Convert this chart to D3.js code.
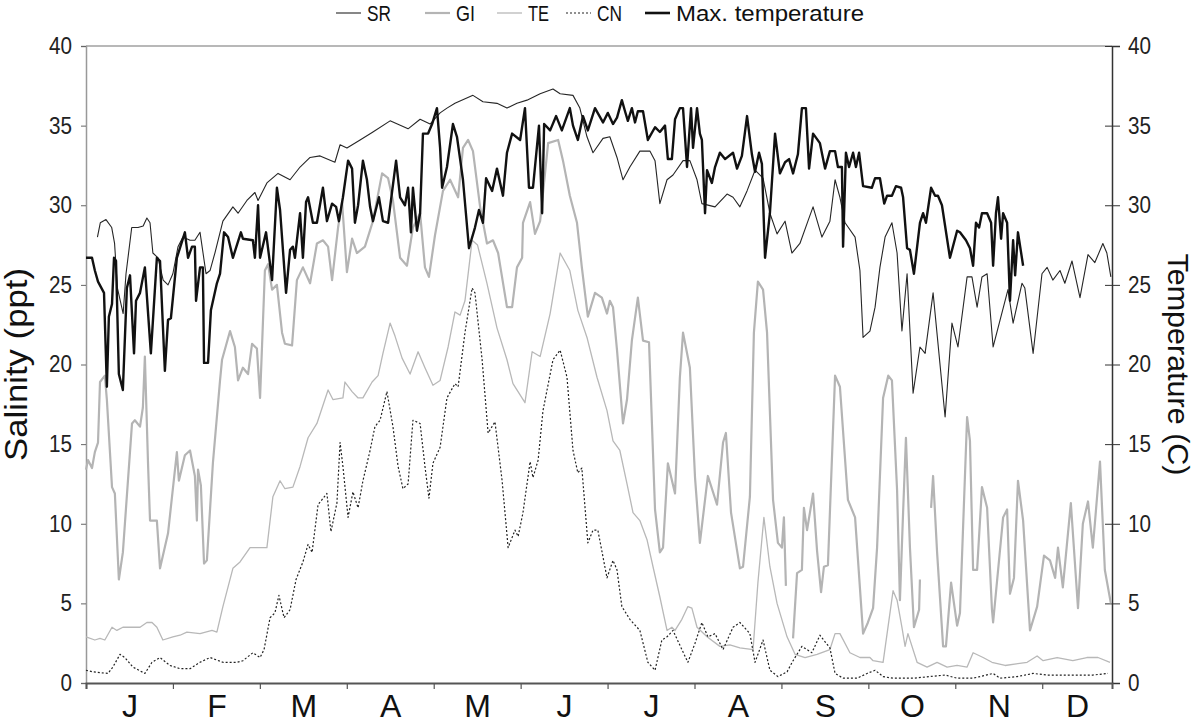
<!DOCTYPE html>
<html><head><meta charset="utf-8">
<script src="https://cdn.jsdelivr.net/npm/d3@7"></script>
<style>
html,body{margin:0;padding:0;background:#fff;}
text{font-family:"Liberation Sans",Arial,sans-serif;}
</style></head>
<body><svg id="c" width="1200" height="726"></svg>
<script>
const months = ["J","F","M","A","M","J","J","A","S","O","N","D"];
const yTicks = [0,5,10,15,20,25,30,35,40];
const legendNames = ["SR","GI","TE","CN","Max. temperature"];

// [day of year, salinity ppt]
const SR = [[4,28.0],[5,28.9],[7,29.1],[9,28.6],[10,27.6],[11,24.8],[13,23.2],[14,25.7],[16,28.6],[18.2,28.6],[20,28.7],[21.3,29.2],[22.4,28.9],[23.4,27.0],[25.2,26.7],[27,25.3],[28.7,25.0],[30.4,25.7],[32.2,27.4],[33.9,28.0],[36.4,27.8],[38.1,27.8],[39.9,28.3],[42,25.7],[43.4,25.9],[45.1,27.0],[47.9,29.0],[51.4,29.9],[53.2,29.5],[56.3,30.3],[59.1,30.8],[60.2,30.3],[63.3,31.4],[67.2,32.0],[71.4,31.6],[74.9,32.4],[78.4,33.0],[81.9,33.1],[87.1,32.7],[88.9,33.8],[91.3,33.6],[95.9,34.1],[100.4,34.6],[106.4,35.3],[112.7,34.8],[116.9,35.4],[120.4,35.1],[123.9,35.8],[126.3,36.1],[129.1,36.4],[135.4,36.9],[138.9,36.5],[143.8,36.4],[147.3,36.1],[150.8,36.4],[154.3,36.6],[158.9,37.0],[163.4,37.3],[165.9,37.0],[170.4,36.9],[172.8,36.1],[175.3,34.3],[177.4,33.3],[180.9,34.2],[183.3,34.3],[185.8,33.0],[187.9,31.6],[190.3,32.4],[193.8,33.4],[197.3,33.4],[199.1,32.8],[200.8,30.1],[203.3,31.6],[205.4,31.9],[208.9,32.8],[211.3,32.8],[213.8,31.6],[215.5,30.1],[220.1,29.9],[224.3,30.7],[226.4,30.5],[228.8,29.9],[231.3,30.9],[234.1,32.2],[236.9,31.7],[239.3,29.5],[241.8,28.2],[244.6,29.0],[247,27.0],[249.8,27.6],[252.6,29.0],[254.4,29.9],[257.5,28.0],[260.3,29.0],[262.1,31.6],[263.8,30.5],[265.6,28.9],[269.1,28.0],[270.8,25.9],[271.9,21.7],[274.3,22.1],[276.1,23.6],[277.8,26.1],[279.6,28.0],[282,28.9],[283.8,27.0],[285.5,22.1],[287.3,25.7],[289.4,18.2],[291.8,21.1],[293.6,20.7],[296.4,24.5],[300.6,16.7],[303,22.6],[305.1,21.1],[308.3,25.5],[310,25.5],[311.8,23.6],[313.5,25.5],[315.3,25.7],[317.4,21.1],[322.6,24.7],[324.4,22.6],[327.5,25.1],[328.5,24.8],[331.4,20.7],[334.5,25.7],[336.3,26.1],[338.3,25.3],[340.8,25.9],[342.5,25.1],[345,26.5],[347.8,24.2],[350.6,26.9],[353,26.4],[355.8,27.6],[357.2,27.0],[358.6,25.5]];

const GI = [[0,13.4],[0.7,14.0],[2.1,13.5],[3.1,14.5],[4.2,15.1],[4.9,18.9],[6.6,19.3],[7.3,17.8],[9.1,12.3],[10.1,11.9],[11.5,6.5],[12.9,8.2],[16.1,16.3],[17.1,16.5],[18.9,16.1],[19.9,17.3],[20.6,20.5],[21.7,13.8],[22.4,10.2],[24.8,10.2],[25.9,7.2],[28.7,9.4],[31.8,14.5],[32.5,12.7],[34.6,14.3],[36.4,14.6],[38.1,13.0],[38.8,10.2],[39.2,13.4],[40.2,12.4],[41.3,7.5],[42.3,7.7],[44.4,13.8],[46.9,19.0],[47.6,20.3],[50.4,22.1],[52.1,21.1],[53.2,19.0],[54.9,19.8],[56.7,19.4],[58.1,21.3],[59.8,21.0],[60.9,17.9],[62.6,25.9],[63.7,26.3],[65.1,24.7],[66.8,25.0],[68.6,22.0],[69.6,21.3],[72.1,21.2],[73.8,25.3],[75.9,26.1],[78.4,25.1],[80.8,27.6],[82.9,27.8],[84.7,27.4],[86.1,25.3],[88.2,28.6],[89.6,30.2],[91.3,25.8],[93.1,27.9],[94.8,27.0],[97.6,27.4],[100.4,29.0],[103.6,32.0],[105.7,31.7],[107.4,30.3],[109.9,26.7],[112.3,26.2],[114.4,28.6],[116.9,29.5],[118.6,26.1],[120,25.5],[122.1,28.1],[124.9,30.9],[127.4,31.6],[130.2,30.5],[131.9,33.6],[133.7,34.1],[135.4,33.4],[137.9,29.9],[140.3,27.6],[142.4,27.8],[144.2,27.0],[147.3,23.6],[149.1,23.6],[150.8,26.1],[152.6,26.7],[152.9,28.9],[155.4,30.2],[157.1,28.2],[158.9,29.0],[161.7,33.9],[165.2,34.1],[166.9,32.8],[169.3,30.6],[171.8,28.9],[173.5,26.1],[175.6,23.0],[178.1,24.5],[180.5,24.2],[182.3,23.2],[183.3,24.0],[184.4,23.6],[185.8,20.9],[187.9,16.3],[189.3,17.8],[191,21.5],[193.1,24.2],[194.9,21.5],[197,21.4],[199.1,10.9],[200.8,8.2],[201.9,8.5],[203.6,13.8],[206.1,11.9],[207.8,19.2],[208.9,22.0],[211.3,19.8],[213.1,12.9],[214.8,8.8],[217.6,13.0],[220.8,11.2],[222.9,15.1],[223.9,15.7],[225.7,10.7],[228.8,7.2],[229.9,7.3],[232.3,11.7],[233.7,22.0],[235.1,25.2],[236.9,24.7],[238.3,22.0],[240.4,11.5],[242.1,8.8],[243.5,8.5],[244.2,10.4],[244.9,6.1],[246,null],[247.4,2.8],[248.8,6.9],[250.5,7.1],[251.2,11.0],[252.3,9.6],[254.4,11.9],[255.8,8.3],[257.2,5.7],[258.2,7.3],[259.6,7.4],[262.1,19.3],[263.8,18.6],[266.6,11.5],[269.1,10.4],[271.9,3.1],[273.6,3.8],[275.4,4.7],[276.8,8.5],[278.9,17.9],[280.7,19.3],[282,19.0],[283.8,12.1],[284.8,5.2],[285.9,10.7],[286.9,15.4],[288.3,8.5],[289.7,3.5],[291.5,4.6],[291.8,6.5],[293,null],[295.7,11.0],[296.4,13.0],[297.8,8.2],[299.9,2.3],[300.9,2.3],[302.7,6.3],[304.8,3.6],[305.8,4.4],[308.3,16.7],[309.3,15.2],[310.4,7.1],[311.8,7.1],[313.5,12.3],[315.3,11.0],[317,4.6],[317.4,3.8],[320.9,10.4],[322.3,10.9],[323.3,5.6],[324.7,6.6],[326.1,12.7],[327.9,10.2],[330.3,3.3],[332.8,4.8],[335.2,8.0],[337.3,7.7],[339.1,6.6],[340.1,8.5],[341.8,6.0],[344.6,11.3],[347.1,4.7],[348.8,10.0],[350.6,11.4],[352.3,8.5],[354.8,13.9],[356.5,7.1],[358.6,5.0]];

const TE = [[0,2.9],[3.1,2.7],[4.9,2.8],[6.6,2.7],[9.1,3.5],[10.8,3.3],[12.9,3.5],[18.9,3.5],[21.3,3.8],[23.1,3.8],[24.8,3.5],[26.9,2.7],[30.4,2.9],[32.9,3.0],[35.3,3.2],[39.9,3.1],[44.1,3.3],[45.8,3.2],[47.9,4.8],[51.4,7.2],[53.9,7.6],[57.4,8.5],[63.3,8.5],[65.4,11.7],[67.9,12.7],[69.6,12.2],[72.4,12.3],[74.9,13.6],[77.7,15.4],[80.8,16.3],[84.7,18.4],[86.4,17.8],[89.9,17.9],[90.6,18.9],[93.1,18.3],[95.2,17.9],[96.9,17.9],[100.1,18.9],[102.2,19.3],[103.9,20.7],[106.4,22.6],[108.1,21.8],[110.6,20.4],[113.4,19.4],[116.2,20.8],[118.6,19.8],[121.4,18.7],[123.9,19.0],[126.7,21.1],[129.1,23.3],[130.9,23.1],[132.6,24.0],[135.1,27.8],[137,27.5],[140.3,25.1],[143.8,22.3],[147.3,20.3],[149.4,18.8],[153.6,17.6],[156.1,20.8],[158.9,20.5],[162.4,23.2],[165.9,27.0],[169.3,25.9],[172.1,23.4],[175.3,21.7],[178.8,19.2],[182.3,17.1],[184.4,15.2],[186.8,14.6],[189.3,12.5],[191.4,10.7],[193.8,10.2],[196.3,9.0],[198.4,7.3],[200.8,5.4],[203.3,3.3],[205,3.5],[206.1,3.3],[208.5,4.0],[210.6,4.8],[212,4.7],[213.8,3.5],[217.3,2.9],[221.8,2.3],[225.3,2.4],[228.8,2.2],[233.4,2.1],[235.1,6.3],[237.2,10.4],[239.3,7.3],[241.8,5.0],[245.3,2.9],[248.1,1.8],[251.6,1.6],[255.8,1.8],[260.3,2.1],[262.1,3.1],[263.8,3.1],[267.3,1.9],[270.8,1.6],[274.3,1.6],[275.4,1.4],[278.9,1.3],[282.4,5.8],[283.8,5.2],[285.5,3.5],[286.6,2.3],[287.6,3.1],[290.8,1.3],[294.3,1.0],[297.8,1.3],[301.3,1.0],[304.8,1.1],[308.3,1.0],[310.4,1.9],[313.9,1.6],[317,1.3],[321.6,1.1],[329.3,1.3],[332.8,1.7],[334.9,1.4],[339.8,1.6],[345.3,1.4],[350.2,1.6],[354.1,1.6],[358.3,1.3]];

const CN = [[0,0.8],[2.4,0.7],[7.7,0.6],[9.4,1.0],[11.9,1.8],[13.6,1.6],[16.4,1.0],[20.6,0.6],[23.1,1.3],[25.9,1.6],[29.4,1.1],[32.9,0.9],[36.4,0.9],[39.9,1.3],[43.4,1.6],[47.9,1.3],[52.8,1.3],[54.9,1.4],[58.4,1.9],[60.9,1.6],[62.3,2.1],[64.4,4.1],[66.1,4.4],[67.5,5.5],[69.3,4.1],[71.4,4.6],[73.5,6.5],[75.9,7.6],[77.7,8.7],[79.1,8.2],[81.2,11.2],[84.3,11.9],[85.7,9.5],[87.8,11.3],[88.9,15.1],[89.9,13.6],[91.7,10.4],[93.4,12.0],[95.2,11.0],[96.9,12.7],[99.4,14.6],[101.1,16.1],[102.9,16.5],[105.3,18.3],[107.4,16.1],[109.2,13.6],[110.9,12.2],[112.7,12.5],[114.4,16.5],[116.9,16.3],[118.6,13.6],[120,11.6],[121.4,13.8],[123.9,14.8],[126.3,17.9],[129.1,18.8],[130.2,18.6],[132.6,22.0],[135.1,24.8],[136.1,24.5],[138.6,20.3],[140.7,15.7],[143.1,16.4],[145.6,12.7],[147.7,8.5],[150.1,9.6],[151.2,9.2],[152.9,10.7],[155.4,13.9],[156.4,12.9],[158.2,14.0],[159.9,17.1],[163.4,20.3],[165.9,20.9],[168.3,19.2],[170.4,14.6],[172.1,13.2],[173.5,13.5],[175.6,8.8],[177.4,9.6],[179.1,9.6],[182.3,6.6],[184.4,7.7],[185.8,7.1],[187.5,4.8],[190.3,4.0],[193.8,3.3],[196.6,1.3],[199.1,0.8],[201.5,2.7],[203.3,2.9],[205.4,3.3],[208.5,2.1],[210.6,1.3],[213.1,2.5],[215.5,3.8],[217.6,2.9],[220.1,3.1],[222.9,2.1],[226.4,3.5],[228.8,3.8],[232.3,3.1],[234.1,1.3],[236.9,2.7],[239.3,0.8],[242.1,0.4],[245.3,0.7],[247.4,1.4],[250.5,2.3],[254,1.9],[256.8,3.0],[260.3,2.2],[262.1,0.6],[264.9,0.3],[269.8,0.3],[273.3,0.6],[276.1,0.8],[278.9,0.4],[282.4,0.3],[289.4,0.3],[300.6,0.5],[304.8,0.3],[310.4,0.3],[317.4,0.6],[319.8,0.3],[325.8,0.4],[331.4,0.6],[336.3,0.5],[343.3,0.5],[352.3,0.5],[357.6,0.6]];

// [day of year, max temperature C]
const TEMP = [[0,26.7],[2.1,26.7],[3.1,25.9],[4.2,25.2],[6.3,24.5],[7.3,18.6],[8,23.0],[9.1,23.8],[9.8,26.7],[10.5,26.5],[11.5,19.4],[12.9,18.4],[14.3,24.8],[15.4,25.6],[16.8,20.7],[17.5,24.0],[18.9,24.5],[20.6,26.1],[22.7,20.7],[24.8,26.7],[25.9,26.5],[27.6,19.6],[28.7,22.8],[29.7,22.9],[31.8,26.7],[34.6,28.3],[35.7,26.7],[37.1,27.4],[38.1,27.4],[38.5,24.0],[39.9,26.1],[40.9,26.1],[41.3,20.1],[42.7,20.1],[43.7,23.4],[45.8,25.1],[46.9,25.7],[48.3,28.3],[49.7,28.0],[51.4,26.7],[54.2,28.3],[54.9,27.9],[58.4,27.8],[59.1,26.7],[60.2,30.0],[60.9,26.7],[63,28.3],[65.1,25.3],[66.8,31.1],[67.9,29.7],[70,24.5],[71.4,27.2],[72.4,27.4],[73.1,26.7],[73.8,27.8],[74.9,29.5],[75.9,26.7],[77,30.2],[77.7,30.5],[79.4,28.9],[80.8,28.9],[82.9,31.1],[84.3,29.0],[86.1,30.1],[87.5,29.9],[88.5,29.0],[89.9,30.5],[91.7,32.8],[93.1,32.3],[94.1,28.9],[95.2,30.0],[96.9,32.8],[98.3,31.6],[99.4,29.9],[100.4,29.0],[102.5,30.5],[103.9,29.0],[105.7,28.9],[108.5,32.8],[109.9,30.5],[111.6,30.0],[112.7,31.1],[113.7,28.3],[114.4,31.1],[115.8,28.4],[116.9,29.5],[117.9,34.5],[119.7,34.5],[121.1,35.1],[122.8,36.1],[123.9,33.6],[124.6,31.1],[126.3,32.4],[128.4,35.1],[129.8,34.3],[130.9,32.9],[131.9,31.6],[134,27.3],[136.1,28.6],[137.5,29.7],[138.9,28.9],[140,31.7],[142.1,30.9],[143.8,32.3],[145.9,30.6],[147.3,33.3],[149.1,34.5],[151.9,34.1],[153.6,36.1],[155,31.1],[156.4,31.1],[158.5,35.0],[159.6,29.5],[160.3,35.1],[162.4,34.7],[164.5,35.6],[166.5,34.7],[169.3,36.1],[170.4,35.0],[172.1,34.1],[173.9,35.6],[175.6,34.7],[178.1,36.1],[180.9,35.2],[182.6,35.8],[184.4,35.1],[185.8,35.5],[187.5,36.6],[188.6,35.9],[189.6,35.3],[191,36.1],[192.1,35.2],[193.1,35.9],[194.9,35.9],[196.6,34.1],[199.1,34.9],[200.8,34.6],[202.6,35.0],[203.6,32.9],[205,32.9],[206.1,35.4],[207.8,36.1],[208.9,36.1],[210.3,32.4],[211.7,36.1],[212.4,33.6],[213.8,36.1],[214.8,34.5],[215.5,34.1],[216.6,29.5],[217.3,32.2],[219,31.4],[220.1,32.4],[221.8,33.3],[223.6,32.9],[226.4,33.3],[227.8,32.3],[229.5,33.1],[231.3,35.6],[233,33.2],[234.1,32.1],[235.5,33.3],[236.5,32.6],[237.6,26.7],[239.3,29.5],[241.1,34.5],[242.8,32.0],[244.6,32.7],[246,32.9],[247.4,32.0],[249.1,33.2],[250.5,36.1],[251.9,36.1],[253,32.3],[254.4,34.5],[256.8,33.9],[258.6,32.3],[260.3,33.4],[262.1,33.4],[263.1,32.4],[264.5,32.4],[264.9,27.4],[265.9,33.3],[267,32.4],[268.4,33.3],[269.4,32.4],[270.5,33.3],[271.9,31.2],[275,31.1],[276.1,31.7],[277.8,31.7],[279.3,30.1],[280.3,30.6],[282,30.6],[283.4,31.2],[285.2,31.1],[285.9,30.5],[287.3,27.3],[288.3,27.2],[289.7,25.7],[291.8,28.9],[292.9,29.5],[293.9,28.9],[295.7,31.1],[297.1,30.6],[298.1,30.6],[299.5,30.0],[302.3,26.7],[304.8,28.4],[305.8,28.3],[307.9,27.8],[309.3,27.3],[310.4,26.2],[311.4,28.9],[312.5,28.6],[313.5,29.5],[315.3,29.5],[316.7,28.9],[317.4,26.2],[318.4,29.5],[319.1,30.5],[320.2,27.9],[320.9,29.5],[322.3,28.9],[323.3,24.0],[324.4,27.8],[325.1,25.6],[326.1,28.3],[327.9,26.2]];

const svg = d3.select("#c");
const x = d3.scaleLinear().domain([0, 359]).range([86, 1112]);
const y = d3.scaleLinear().domain([0, 40]).range([683, 46]);
const monthLen = 365 / 12;
const monthStarts = d3.range(12).map(i => i * monthLen);
const monthMids = monthStarts.map(s => (s + Math.min(s + monthLen, 359)) / 2);

// frame top line
svg.append("line").attr("x1", x(0)).attr("x2", x(359)).attr("y1", y(40)).attr("y2", y(40))
  .attr("stroke", "#a0a0a0").attr("stroke-width", 1.5);

// left axis
const gL = svg.append("g").attr("transform", `translate(${x(0)},0)`)
  .call(d3.axisLeft(y).tickValues(yTicks).tickSize(5).tickPadding(9).tickFormat(d3.format("d")));
gL.select(".domain").attr("stroke", "#999").attr("stroke-width", 1.5);
gL.selectAll(".tick line").attr("stroke", "#666");
gL.selectAll("text").attr("font-size", 23).attr("fill", "#222")
  .attr("textLength", d => d >= 10 ? 23 : 11.5).attr("lengthAdjust", "spacingAndGlyphs");

// right axis
const gR = svg.append("g").attr("transform", `translate(${x(359)},0)`)
  .call(d3.axisRight(y).tickValues(yTicks).tickSize(8).tickPadding(8).tickFormat(d3.format("d")));
gR.select(".domain").attr("stroke", "#333").attr("stroke-width", 1.5);
gR.selectAll(".tick line").attr("x1", -7).attr("stroke", "#333");
gR.selectAll("text").attr("font-size", 23).attr("fill", "#222")
  .attr("textLength", d => d >= 10 ? 23 : 11.5).attr("lengthAdjust", "spacingAndGlyphs");

// bottom axis
const gB = svg.append("g").attr("transform", `translate(0,${y(0)})`)
  .call(d3.axisBottom(x).tickValues(monthStarts).tickSize(6).tickFormat(""));
gB.select(".domain").attr("stroke", "#555").attr("stroke-width", 2);
gB.selectAll(".tick line").attr("stroke", "#555").attr("stroke-width", 1.2);
const gM = svg.append("g").attr("transform", `translate(0,${y(0)})`)
  .call(d3.axisBottom(x).tickValues(monthMids).tickSize(0).tickPadding(11).tickFormat((d, i) => months[i]));
gM.select(".domain").remove();
gM.selectAll("text").attr("font-size", 32).attr("fill", "#111");

// axis titles
svg.append("text").attr("transform", `translate(27,${y(20)}) rotate(-90)`)
  .attr("text-anchor", "middle").attr("font-size", 31).attr("fill", "#111")
  .attr("textLength", 193).attr("lengthAdjust", "spacingAndGlyphs").text("Salinity (ppt)");
svg.append("text").attr("transform", `translate(1168,${y(20)}) rotate(90)`)
  .attr("text-anchor", "middle").attr("font-size", 29).attr("fill", "#111")
  .attr("textLength", 222).attr("lengthAdjust", "spacingAndGlyphs").text("Temperature (C)");

const line = d3.line().defined(d => d[1] !== null).x(d => x(d[0])).y(d => y(d[1]));
const plot = svg.append("g");
const styles = {
  GI: {stroke: "#b4b4b4", w: 2.2, dash: null},
  TE: {stroke: "#b8b8b8", w: 1.3, dash: null},
  SR: {stroke: "#262626", w: 1.1, dash: null},
  CN: {stroke: "#222", w: 1.2, dash: "2,2"},
  TEMP: {stroke: "#111", w: 2.4, dash: null}
};
[["GI", GI], ["TE", TE], ["CN", CN], ["SR", SR], ["TEMP", TEMP]].forEach(([k, data]) => {
  const s = styles[k];
  plot.append("path").datum(data).attr("d", line).attr("fill", "none")
    .attr("stroke", s.stroke).attr("stroke-width", s.w)
    .attr("stroke-dasharray", s.dash).attr("stroke-linejoin", "round");
});

// legend
const legKeys = ["SR", "GI", "TE", "CN", "TEMP"];
const legX = [336, 425, 497, 566, 645];
const legTextLen = [24, 19, 21, 25, 188];
const leg = svg.append("g");
legKeys.forEach((k, i) => {
  const s = styles[k];
  leg.append("line").attr("x1", legX[i]).attr("x2", legX[i] + 25).attr("y1", 13).attr("y2", 13)
    .attr("stroke", s.stroke).attr("stroke-width", k === "TEMP" ? 2.6 : s.w)
    .attr("stroke-dasharray", s.dash);
  leg.append("text").attr("x", legX[i] + 31).attr("y", 21).attr("font-size", 22)
    .attr("fill", "#111").attr("textLength", legTextLen[i]).attr("lengthAdjust", "spacingAndGlyphs")
    .text(legendNames[i]);
});
</script></body></html>
